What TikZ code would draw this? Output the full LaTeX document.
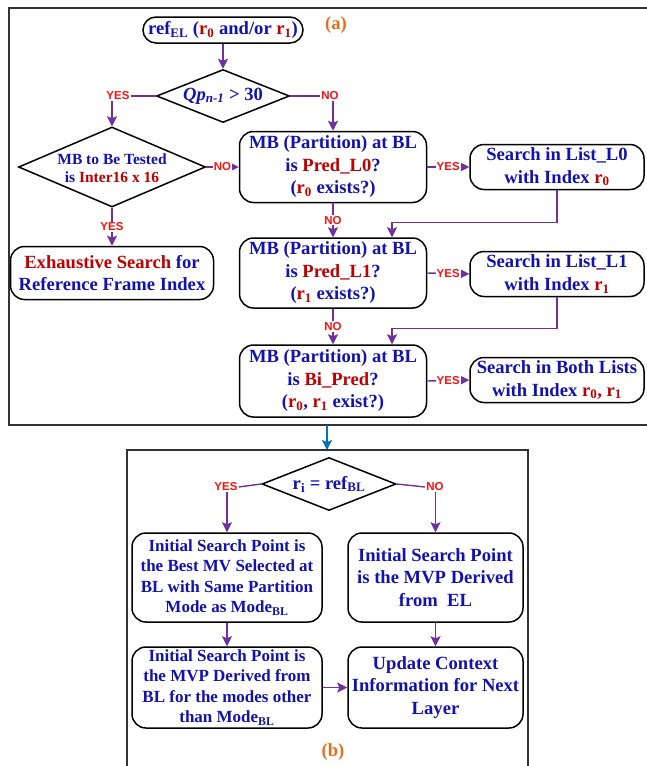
\documentclass[tikz,border=0pt]{standalone}
\usepackage{fontspec}
\setmainfont{Liberation Serif}
\newfontfamily\lblfont{Liberation Sans}
\usetikzlibrary{arrows.meta,shapes.geometric,calc}

\definecolor{txtblue}{HTML}{1212B0}
\definecolor{txtred}{HTML}{C00000}
\definecolor{lblred}{HTML}{FF1010}
\definecolor{flow}{HTML}{7030A0}
\definecolor{tagorange}{HTML}{E0701E}
\definecolor{linkblue}{HTML}{0070C0}
\definecolor{framegray}{HTML}{333333}

\newcommand\rd[1]{\textcolor{txtred}{#1}}
\newcommand\sbs[1]{\textsubscript{#1}}

\tikzset{
  big/.style={font=\bfseries\fontsize{18.6}{22.5}\selectfont},
  small/.style={font=\bfseries\fontsize{17}{20.5}\selectfont},
  box/.style={draw=black, line width=1.5pt, rounded corners=14pt, align=center,
    text=txtblue, inner sep=0pt, big},
  pill/.style={box, rounded corners=13pt},
  dia/.style={draw=black, line width=1.5pt, diamond, inner sep=0pt},
  diatext/.style={align=center, text=txtblue, inner sep=0pt},
  lbl/.style={font=\lblfont\bfseries\fontsize{11.5}{12}\selectfont, text=lblred,
    inner sep=1pt, fill=white},
  flowline/.style={draw=flow, line width=1.4pt},
  tip/.style={-{Stealth[length=10pt,width=10pt,inset=2pt]}},
  arr/.style={flowline, tip},
  tag/.style={text=tagorange, font=\bfseries\fontsize{18.6}{22}\selectfont},
  frame/.style={draw=framegray, line width=1.2pt},
}

\begin{document}
\begin{tikzpicture}[x=1pt,y=-1pt]
\useasboundingbox (0,0) rectangle (646,766);

% ---------- part (a) ----------
\draw[frame] (660,8) -- (9,8) -- (9,425) -- (660,425);
\node[tag] (taga) at (336,25) {(a)};

\node[pill, minimum width=160pt, minimum height=26pt] (ref) at (223,30)
  {ref\sbs{EL} (\rd{r\sbs{0}} and/or \rd{r\sbs{1}})};

\node[dia, minimum width=133pt, minimum height=53pt] (qp) at (223,96) {};
\node[diatext, big] at (qp) {\textit{Qp\sbs{n-1}} > 30};

\node[dia, minimum width=187pt, minimum height=80pt] (d2) at (112,167) {};
\node[diatext, font=\bfseries\fontsize{15.5}{18}\selectfont] at ($(d2)+(0,1)$)
  {MB to Be Tested\\is \rd{Inter16 x 16}};

\node[box, minimum width=203pt, minimum height=53pt] (exh) at (112,273)
  {\rd{Exhaustive Search} for\\Reference Frame Index};

\node[box, minimum width=187pt, minimum height=71pt] (pl0) at (333,167)
  {MB (Partition) at BL\\is \rd{Pred\_L0}?\\(\rd{r\sbs{0}} exists?)};
\node[box, minimum width=174pt, minimum height=45pt] (sl0) at (557,167)
  {Search in List\_L0\\with Index \rd{r\sbs{0}}};

\node[box, minimum width=187pt, minimum height=70pt] (pl1) at (333,273)
  {MB (Partition) at BL\\is \rd{Pred\_L1}?\\(\rd{r\sbs{1}} exists?)};
\node[box, minimum width=174pt, minimum height=45pt] (sl1) at (557,274)
  {Search in List\_L1\\with Index \rd{r\sbs{1}}};

\node[box, minimum width=187pt, minimum height=72pt] (bp) at (333,381)
  {MB (Partition) at BL\\is \rd{Bi\_Pred}?\\(\rd{r\sbs{0}}, \rd{r\sbs{1}} exist?)};
\node[box, minimum width=174pt, minimum height=45pt] (sb) at (557,380)
  {Search in Both Lists\\with Index \rd{r\sbs{0}, r\sbs{1}}};

% connectors of part (a)
\draw[arr] (ref.south) -- (qp.north);
\node[lbl] (y1) at (118,96) {YES};
\draw[flowline] (qp.west) -- (y1.east);
\draw[arr] (y1.south -| d2.north) -- (d2.north);
\node[lbl] (n1) at (330,96) {NO};
\draw[flowline] (qp.east) -- (n1.west);
\draw[arr] (n1.south -| pl0.north) -- (pl0.north);

\draw[arr] (d2.east) -- node[lbl] {NO} (pl0.west);
\draw[arr] (d2.south) -- node[lbl] {YES} (exh.north);

\draw[arr] (pl0.east) -- node[lbl] {YES} (sl0.west);
\draw[arr] (pl0.south) -- node[lbl] {NO} (pl1.north);
\draw[arr] (sl0.south) -- ++(0,32) -| ($(pl1.north)+(59,0)$);

\draw[arr] (pl1.east) -- node[lbl] {YES} (sl1.west);
\draw[arr] (pl1.south) -- node[lbl] {NO} (bp.north);
\draw[arr] (sl1.south) -- ++(0,31) -| ($(bp.north)+(59,0)$);

\draw[arr] (bp.east) -- node[lbl] {YES} (sb.west);

% link between the two parts
\coordinate (aout) at (327,425);
\coordinate (bin) at (327,450);
\draw[draw=linkblue, line width=1.4pt, tip] (aout) -- (bin);

% ---------- part (b) ----------
\draw[frame] (127,780) -- (127,450) -- (528,450) -- (528,780);

\node[dia, minimum width=134pt, minimum height=53pt] (ri) at (329,484) {};
\node[diatext, big] at (ri) {r\sbs{i} = ref\sbs{BL}};

\node[box, small, minimum width=190pt, minimum height=89pt] (b1) at (227,577.5)
  {Initial Search Point is\\the Best MV Selected at\\BL with Same Partition\\Mode as Mode\sbs{BL}};
\node[box, minimum width=175pt, minimum height=89pt] (b2) at (435.5,577.5)
  {Initial Search Point\\is the MVP Derived\\from~~EL};
\node[box, small, minimum width=190pt, minimum height=81pt] (b3) at (227,687.5)
  {Initial Search Point is\\the MVP Derived from\\BL for the modes other\\than Mode\sbs{BL}};
\node[box, minimum width=175pt, minimum height=81pt] (b4) at (435.5,687.5)
  {Update Context\\Information for Next\\Layer};

\node[tag] (tagb) at (333,752) {(b)};

% connectors of part (b)
\node[lbl] (y2) at (226,487) {YES};
\draw[flowline] (ri.west) -- (y2.east);
\draw[arr] (y2.south -| b1.north) -- (b1.north);
\node[lbl] (n2) at (435,487) {NO};
\draw[flowline] (ri.east) -- (n2.west);
\draw[arr] (n2.south -| b2.north) -- (b2.north);

\draw[arr] (b1.south) -- (b3.north);
\draw[arr] (b2.south) -- (b4.north);
\draw[arr] (b3.east) -- (b4.west);
\end{tikzpicture}
\end{document}
